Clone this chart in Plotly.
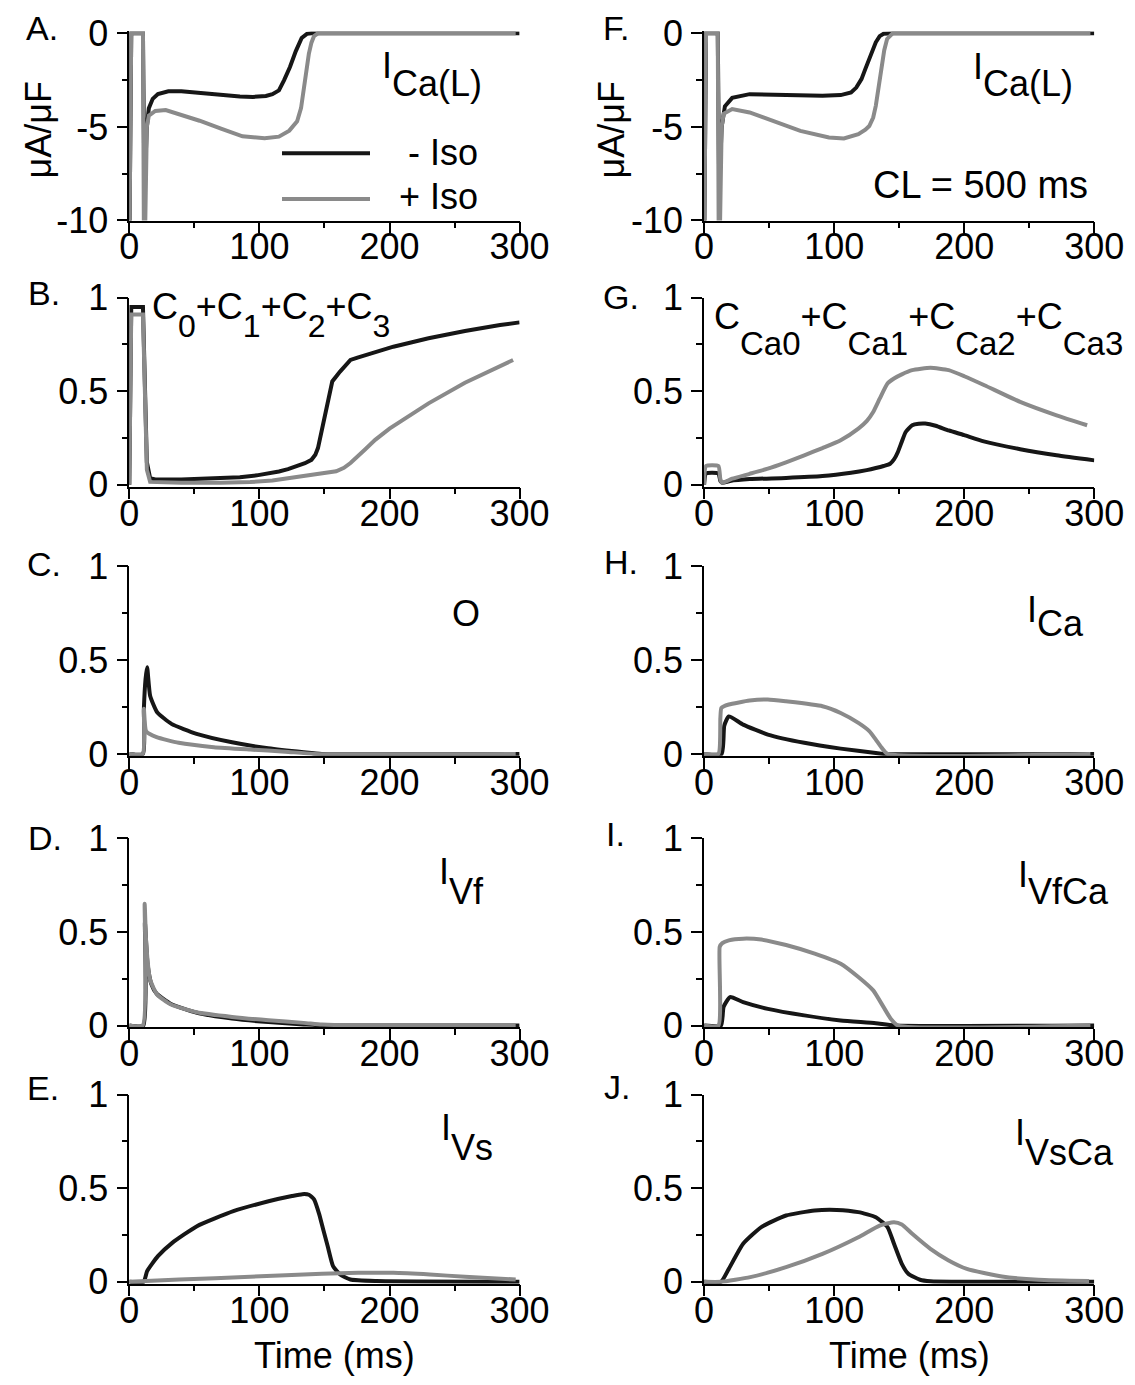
import plotly.graph_objects as go

W, H = 1135, 1385
OFF = 8  # the page body keeps a default 8 px margin round the figure
FW, FH = W - 2 * OFF, H - 2 * OFF
FONT = "Liberation Sans, Arial, Helvetica, sans-serif"
BLACK = "#161616"
GRAY = "#8a8a8a"

# ---------------- data (time in ms) ----------------
# A: I_Ca(L) (uA/uF)
tA_k = [0, 1.5, 10.5, 11.5, 12.5, 13.5, 15, 18, 22, 30, 40, 55, 70, 85, 95, 105, 110, 115, 119, 123.5, 128, 132.5, 136.5, 140, 150, 300]
A_k = [-12, 0, 0, -7.5, -6.8, -5.0, -4.0, -3.5, -3.25, -3.1, -3.1, -3.2, -3.3, -3.38, -3.4, -3.35, -3.25, -3.05, -2.5, -1.8, -0.95, -0.25, -0.03, 0, 0, 0]
tA_g = [0, 1.5, 10.5, 11.3, 12.3, 13.5, 15, 20, 28, 38, 54, 71, 87, 104, 115, 123, 129, 132, 134, 136, 138, 140, 142, 145, 297]
A_g = [-12, 0, 0, -12, -10, -5.0, -4.4, -4.15, -4.1, -4.3, -4.67, -5.1, -5.5, -5.6, -5.52, -5.2, -4.7, -4.0, -3.0, -2.0, -1.1, -0.5, -0.15, 0, 0]

# B: C0+C1+C2+C3
tB_k = [0, 1.5, 10.5, 12, 13.5, 16, 20, 40, 65, 85, 98, 108, 115, 122, 129, 135, 140, 143, 145, 147, 149, 152, 156, 162, 170, 175.4, 190, 203, 230, 258, 285, 300]
B_k = [0, 0.95, 0.95, 0.5, 0.12, 0.035, 0.028, 0.028, 0.032, 0.04, 0.05, 0.06, 0.071, 0.083, 0.098, 0.115, 0.133, 0.16, 0.196, 0.26, 0.338, 0.445, 0.552, 0.605, 0.667, 0.68, 0.71, 0.738, 0.783, 0.822, 0.854, 0.868]
tB_g = [0, 1.5, 10.5, 12, 13.5, 16, 40, 70, 93, 110, 120, 135, 150, 159, 165, 170, 181, 189, 200, 215, 230, 258, 275, 285, 295]
B_g = [0, 0.91, 0.91, 0.45, 0.08, 0.015, 0.01, 0.011, 0.014, 0.022, 0.032, 0.048, 0.062, 0.072, 0.09, 0.116, 0.187, 0.24, 0.30, 0.37, 0.435, 0.545, 0.60, 0.635, 0.667]

# C: O
tC_k = [0, 10.5, 11.2, 12.5, 13.7, 16, 21.4, 32.4, 51.7, 79, 106.7, 134, 148, 300]
C_k = [0, 0, 0.24, 0.40, 0.462, 0.31, 0.222, 0.16, 0.107, 0.062, 0.03, 0.009, 0, 0]
tC_g = [0, 10.3, 11.2, 13, 21, 38, 65, 93, 120, 142, 297]
C_g = [0, 0, 0.24, 0.12, 0.089, 0.059, 0.036, 0.023, 0.012, 0, 0]

# D: I_Vf
tD_k = [0, 10.8, 12, 14, 17, 21, 32, 52, 79, 107, 134, 150, 300]
D_k = [0, 0, 0.55, 0.33, 0.22, 0.17, 0.115, 0.068, 0.037, 0.018, 0.006, 0, 0]
tD_g = [0, 10.3, 11.8, 13, 16, 21.4, 32, 51.7, 79, 107, 134, 148, 170, 297]
D_g = [0, 0, 0.65, 0.44, 0.245, 0.165, 0.112, 0.071, 0.046, 0.028, 0.014, 0.005, 0, 0]

# E: I_Vs
tE_k = [0, 11, 13.7, 22, 33, 52, 80, 107, 125, 133, 138, 142, 146, 149, 152.5, 156.6, 162, 170, 190, 300]
E_k = [0, 0, 0.057, 0.137, 0.208, 0.297, 0.377, 0.43, 0.458, 0.468, 0.465, 0.44, 0.36, 0.28, 0.19, 0.084, 0.039, 0.012, 0.004, 0]
tE_g = [0, 38.5, 93, 148, 176, 203, 231, 258, 297]
E_g = [0, 0.012, 0.027, 0.043, 0.048, 0.048, 0.039, 0.027, 0.012]

# F: I_Ca(L), CL = 500 ms
tF_k = [0, 1.5, 10.5, 11.5, 12.5, 13.5, 16, 21.6, 35, 60, 91, 105, 113, 117, 121, 124, 127, 130, 132, 135, 138, 145, 300]
F_k = [-12, 0, 0, -7.5, -6.8, -5.0, -3.9, -3.45, -3.25, -3.28, -3.34, -3.3, -3.16, -2.9, -2.45, -1.9, -1.375, -0.85, -0.48, -0.15, -0.02, 0, 0]
tF_g = [0, 1.5, 10.5, 11.3, 12.3, 13.5, 15, 21.6, 35, 52, 74, 96, 107.5, 118.6, 124, 127, 130, 132, 134.5, 136.6, 138.5, 140.7, 145, 297]
F_g = [-12, 0, 0, -12, -10, -5.0, -4.3, -4.05, -4.23, -4.68, -5.21, -5.57, -5.62, -5.39, -5.15, -4.95, -4.5, -3.875, -2.8, -1.73, -0.9, -0.3, 0, 0]

# G: CCa0+CCa1+CCa2+CCa3
tG_k = [0, 1.5, 11, 12.5, 14, 20, 35, 63, 91, 113, 125, 132, 138, 143, 146, 149, 152, 155, 160, 165, 170, 178, 188, 200, 215, 243, 271, 300]
G_k = [0, 0.06, 0.06, 0.02, 0.01, 0.02, 0.03, 0.036, 0.046, 0.064, 0.078, 0.089, 0.1, 0.112, 0.135, 0.175, 0.23, 0.282, 0.318, 0.326, 0.327, 0.315, 0.29, 0.265, 0.232, 0.19, 0.157, 0.13]
tG_g = [0, 1.5, 11, 12.5, 14, 21.6, 35, 49, 63, 77, 91, 105, 118.6, 125, 130, 135, 141, 146, 152, 160, 174, 188, 200, 215.5, 243, 271, 294.5]
G_g = [0, 0.10, 0.10, 0.03, 0.01, 0.032, 0.058, 0.086, 0.12, 0.157, 0.196, 0.2375, 0.30, 0.34, 0.389, 0.46, 0.541, 0.568, 0.59, 0.6125, 0.625, 0.6125, 0.58, 0.532, 0.443, 0.371, 0.318]

# H: I_Ca
tH_k = [0, 13.5, 15.5, 19, 30, 49, 77, 105, 132, 138, 300]
H_k = [0, 0, 0.15, 0.20, 0.156, 0.103, 0.059, 0.028, 0.005, 0, 0]
tH_g = [0, 11, 12.5, 13.3, 19, 35, 49, 63, 91, 105, 118.6, 127, 132, 136.6, 141, 297]
H_g = [0, 0, 0.19, 0.245, 0.263, 0.284, 0.29, 0.28, 0.254, 0.218, 0.165, 0.121, 0.076, 0.032, 0, 0]

# I: I_VfCa
tI_k = [0, 13, 15, 20, 30, 49, 77, 105, 132, 146, 300]
I_k = [0, 0, 0.1, 0.152, 0.125, 0.089, 0.054, 0.027, 0.0125, 0, 0]
tI_g = [0, 11, 12, 14, 19, 30, 44, 63, 85, 105, 118.6, 130, 138, 143.5, 149, 297]
I_g = [0, 0, 0.42, 0.44, 0.455, 0.464, 0.459, 0.43, 0.384, 0.33, 0.259, 0.1875, 0.098, 0.036, 0, 0]

# J: I_VsCa
tJ_k = [0, 13, 19, 30, 44, 63, 85, 102, 118.6, 132, 141, 146, 152, 157, 166, 174, 300]
J_k = [0, 0, 0.069, 0.203, 0.292, 0.354, 0.381, 0.384, 0.372, 0.345, 0.292, 0.203, 0.096, 0.043, 0.011, 0.003, 0]
tJ_g = [0, 13, 35.5, 63, 91, 118.6, 135, 146, 152, 160, 174, 188, 202, 229, 257, 296]
J_g = [0, 0, 0.025, 0.078, 0.149, 0.238, 0.30, 0.318, 0.306, 0.256, 0.176, 0.114, 0.069, 0.028, 0.011, 0.004]

x_ticks = [0, 100, 200, 300]
x_ticktext = ["0", "100", "200", "300"]
x_minor = [50, 150, 250]
p_ticks = [0, 0.5, 1]
p_ticktext = ["0", "0.5", "1"]
p_minor = [0.25, 0.75]
i_ticks = [-10, -5, 0]
i_ticktext = ["-10", "-5", "0"]
i_minor = [-7.5, -2.5]

series_names = ["- Iso", "+ Iso"]

# ---------------- layout helpers (page pixels -> paper fractions) ----------------
def fx(x):
    return (x - OFF) / FW

def fy(y):
    return 1 - (y - OFF) / FH

LEFT_X = (129.3, 519.6)
RIGHT_X = (704.1, 1094.3)
# (top value px, bottom value px) per row
ROWS = [(33.3, 220.5), (297.7, 484.7), (566.2, 753.9), (838.3, 1025.5), (1094.5, 1281.8)]

def area(row, kind):
    top, bot = ROWS[row]
    if kind == "I":          # range [-10, 0.1]: 0.1 above the 0 tick
        return (top - 0.1 * (bot - top) / 10, bot)
    return (top, bot + 0.01 * (bot - top))   # range [-0.01, 1]

# key, data, x px, row, kind, smooth
panels = [
    ("A", (tA_k, A_k, tA_g, A_g), LEFT_X, 0, "I", False),
    ("B", (tB_k, B_k, tB_g, B_g), LEFT_X, 1, "P", False),
    ("C", (tC_k, C_k, tC_g, C_g), LEFT_X, 2, "P", True),
    ("D", (tD_k, D_k, tD_g, D_g), LEFT_X, 3, "P", True),
    ("E", (tE_k, E_k, tE_g, E_g), LEFT_X, 4, "P", True),
    ("F", (tF_k, F_k, tF_g, F_g), RIGHT_X, 0, "I", False),
    ("G", (tG_k, G_k, tG_g, G_g), RIGHT_X, 1, "P", True),
    ("H", (tH_k, H_k, tH_g, H_g), RIGHT_X, 2, "P", True),
    ("I", (tI_k, I_k, tI_g, I_g), RIGHT_X, 3, "P", True),
    ("J", (tJ_k, J_k, tJ_g, J_g), RIGHT_X, 4, "P", True),
]

fig = go.Figure()
layout = {}
tickfont = dict(family=FONT, size=36, color="black")

for i, (key, (tk, vk, tg, vg), xp, row, kind, smooth) in enumerate(panels, start=1):
    yp = area(row, kind)
    xname = "x" if i == 1 else f"x{i}"
    yname = "y" if i == 1 else f"y{i}"
    xl = "xaxis" if i == 1 else f"xaxis{i}"
    yl = "yaxis" if i == 1 else f"yaxis{i}"
    shape = dict(shape="spline", smoothing=0.5) if smooth else dict(shape="linear")
    fig.add_trace(go.Scatter(x=tk, y=vk, mode="lines", name=series_names[0],
                             line=dict(color=BLACK, width=4, **shape), xaxis=xname, yaxis=yname,
                             showlegend=False, hoverinfo="skip"))
    fig.add_trace(go.Scatter(x=tg, y=vg, mode="lines", name=series_names[1],
                             line=dict(color=GRAY, width=4, **shape), xaxis=xname, yaxis=yname,
                             showlegend=False, hoverinfo="skip"))
    common = dict(showline=True, linecolor="black", linewidth=1.5, showgrid=False,
                  zeroline=False, ticks="outside", ticklen=11, tickwidth=1.5,
                  tickcolor="black", tickfont=tickfont, tickmode="array", fixedrange=True,
                  automargin=False)
    layout[xl] = dict(domain=[fx(xp[0]), fx(xp[1])], range=[0, 300], anchor=yname,
                      tickvals=x_ticks, ticktext=x_ticktext, ticklabelstandoff=-17,
                      minor=dict(tickmode="array", tickvals=x_minor, ticks="outside", ticklen=6,
                                 tickwidth=1.5, tickcolor="black"),
                      **common)
    if kind == "I":
        yr, tv, tt, mv = [-10, 0.1], i_ticks, i_ticktext, i_minor
    else:
        yr, tv, tt, mv = [-0.01, 1], p_ticks, p_ticktext, p_minor
    layout[yl] = dict(domain=[fy(yp[1]), fy(yp[0])], range=yr, anchor=xname,
                      tickvals=tv, ticktext=tt, ticklabelstandoff=1,
                      minor=dict(tickmode="array", tickvals=mv, ticks="outside", ticklen=6,
                                 tickwidth=1.5, tickcolor="black"),
                      **common)

ann = []

def text(t, x, y, size=36, xa="left", ya="middle", angle=0, pad=1):
    ann.append(dict(text=t, x=fx(x), y=fy(y), xref="paper", yref="paper",
                    xanchor=xa, yanchor=ya, showarrow=False, textangle=angle, borderpad=pad,
                    font=dict(family=FONT, size=size, color="black"), align="left"))

# panel letters (left px, centre px); top row pinned to the top edge
text("A.", 25, OFF, size=34, ya="top", pad=0)
text("F.", 602, OFF, size=34, ya="top", pad=0)
for lab, x, y in [("B.", 26, 293), ("C.", 25, 564), ("D.", 26, 838),
                  ("E.", 25, 1088), ("G.", 601, 297), ("H.", 602, 562),
                  ("I.", 604, 834), ("J.", 602, 1087)]:
    text(lab, x, y, size=34)

def sub(s, shift, size=None):
    st = f"baseline-shift:-{shift}px"
    if size:
        st += f";font-size:{size}px"
    return f'<span style="{st}">{s}</span>'

def label(t, x, baseline):
    # box top sits ~33 px above the main baseline for a 36 px font
    text(t, x, baseline - 33, ya="top")

label("I" + sub("Ca(L)", 18), 380, 76)
label("I" + sub("Ca(L)", 17), 971, 77)
label("C" + sub("0", 18, 32) + "+C" + sub("1", 18, 32) + "+C" + sub("2", 18, 32) + "+C" + sub("3", 18, 32),
      150, 317)
label("C" + sub("Ca0", 26, 33) + "+C" + sub("Ca1", 26, 33) + "+C" + sub("Ca2", 26, 33) + "+C" + sub("Ca3", 26, 33),
      712, 327)
text("O", 466, 613.5, xa="center")
label("I" + sub("Vf", 20), 437, 882)
label("I" + sub("Vs", 20), 439, 1138)
label("I" + sub("Ca", 14), 1025, 620)
label("I" + sub("VfCa", 17), 1016, 885)
label("I" + sub("VsCa", 20), 1013, 1143)
text("CL = 500 ms", 1090, 185, size=38, xa="right")

# legend
text(series_names[0], 480, 153, xa="right")
text(series_names[1], 480, 197, xa="right")
shapes = [
    dict(type="line", xref="paper", yref="paper", x0=fx(282), x1=fx(370), y0=fy(153.3), y1=fy(153.3),
         line=dict(color=BLACK, width=4)),
    dict(type="line", xref="paper", yref="paper", x0=fx(282), x1=fx(370), y0=fy(199), y1=fy(199),
         line=dict(color=GRAY, width=4)),
]

# axis titles
text("μA/μF", 37.5, 130, xa="center", angle=-90)
text("μA/μF", 610.5, 130, xa="center", angle=-90)
text("Time (ms)", 334, H - OFF - 0.5, xa="center", ya="bottom", pad=0)
text("Time (ms)", 909, H - OFF - 0.5, xa="center", ya="bottom", pad=0)

fig.update_layout(width=FW, height=FH, autosize=False,
                  margin=dict(l=0, r=0, t=0, b=0, autoexpand=False),
                  paper_bgcolor="white", plot_bgcolor="white",
                  font=dict(family=FONT, color="black"),
                  showlegend=False, annotations=ann, shapes=shapes, **layout)

fig.write_html("out.html")
